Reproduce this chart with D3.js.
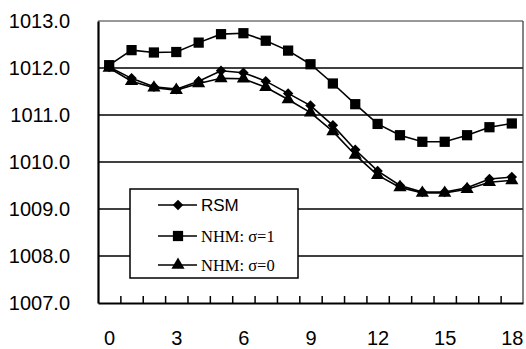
<!DOCTYPE html>
<html><head><meta charset="utf-8">
<script src="https://cdn.jsdelivr.net/npm/d3@7"></script>
<style>body{margin:0;background:#fff}svg{display:block}</style>
</head><body>
<script>
const hours = [0,1,2,3,4,5,6,7,8,9,10,11,12,13,14,15,16,17,18];
const rsm  = [1012.02,1011.78,1011.6,1011.55,1011.72,1011.94,1011.9,1011.72,1011.46,1011.2,1010.78,1010.26,1009.81,1009.5,1009.36,1009.36,1009.45,1009.64,1009.68];
const nhm1 = [1012.06,1012.38,1012.33,1012.34,1012.54,1012.72,1012.74,1012.58,1012.37,1012.08,1011.67,1011.23,1010.81,1010.57,1010.43,1010.43,1010.57,1010.74,1010.82];
const nhm0 = [1012.0,1011.72,1011.58,1011.53,1011.67,1011.78,1011.77,1011.59,1011.33,1011.05,1010.65,1010.15,1009.72,1009.46,1009.34,1009.34,1009.42,1009.57,1009.61];
const yTicks = [1007,1008,1009,1010,1011,1012,1013];
const xLabels = [0,3,6,9,12,15,18];
const seriesNames = ["RSM","NHM: σ=1","NHM: σ=0"];

const W=526,H=349;
const svg=d3.select("body").append("svg").attr("width",W).attr("height",H);
const L=98,R=523,T=21,B=303;
const x=d3.scaleLinear().domain([-0.5,18.5]).range([L,R]);
const y=d3.scaleLinear().domain([1007,1013]).range([B,T]);

// gridlines
svg.append("g").selectAll("line").data(yTicks.filter(v=>v>1007&&v<1013)).join("line")
  .attr("x1",L).attr("x2",R).attr("y1",d=>y(d)).attr("y2",d=>y(d))
  .attr("stroke","#000").attr("stroke-width",1.5);
// plot border top/right
svg.append("line").attr("x1",L).attr("x2",R).attr("y1",T).attr("y2",T).attr("stroke","#333").attr("stroke-width",1.2);
svg.append("line").attr("x1",R).attr("x2",R).attr("y1",T).attr("y2",B).attr("stroke","#333").attr("stroke-width",1.2);

// y axis
const ya=svg.append("g").attr("transform",`translate(${L},0)`)
  .call(d3.axisLeft(y).tickValues(yTicks).tickFormat(d3.format(".1f")).tickSize(0).tickPadding(28));
ya.select(".domain").attr("stroke","#000").attr("stroke-width",2.2);
ya.selectAll("text").attr("font-family","Liberation Sans, Arial, sans-serif").attr("font-size",20).attr("fill","#000");

// x axis minor ticks (between categories)
const xt=svg.append("g").attr("transform",`translate(0,${B})`)
  .call(d3.axisBottom(x).tickValues(hours.slice(0,18).map(h=>h+0.5)).tickFormat("").tickSizeInner(-7).tickSizeOuter(0));
xt.select(".domain").attr("stroke","#000").attr("stroke-width",2.2);
xt.selectAll(".tick line").attr("stroke","#000").attr("stroke-width",1.5);
// x labels
const xl=svg.append("g").attr("transform",`translate(0,${B})`)
  .call(d3.axisBottom(x).tickValues(xLabels).tickSize(0).tickPadding(28));
xl.select(".domain").remove();
xl.selectAll("text").attr("font-family","Liberation Sans, Arial, sans-serif").attr("font-size",20).attr("fill","#000");

const line=d3.line().x((d,i)=>x(hours[i])).y(d=>y(d));
const sym = {
  diamond: d3.symbol().type(d3.symbolDiamond2).size(70),
  square: d3.symbol().type(d3.symbolSquare).size(105),
  triangle: d3.symbol().type(d3.symbolTriangle).size(75)
};
function drawSeries(data, s){
  svg.append("path").datum(data).attr("d",line).attr("fill","none").attr("stroke","#000").attr("stroke-width",1.6);
  svg.append("g").selectAll("path").data(data).join("path")
    .attr("transform",(d,i)=>`translate(${x(hours[i])},${y(d)})`)
    .attr("d",sym[s]).attr("fill","#000");
}
drawSeries(nhm0,"triangle");
drawSeries(rsm,"diamond");
drawSeries(nhm1,"square");

// legend
const lg=svg.append("g");
lg.append("rect").attr("x",130).attr("y",189).attr("width",168).attr("height",89)
  .attr("fill","#fff").attr("stroke","#000").attr("stroke-width",1.5);
const rows=[{n:seriesNames[0],s:"diamond",f:"Liberation Sans, Arial, sans-serif",y:205,fs:17},
            {n:seriesNames[1],s:"square",f:"Liberation Serif, Times New Roman, serif",y:236,fs:16.5},
            {n:seriesNames[2],s:"triangle",f:"Liberation Serif, Times New Roman, serif",y:265,fs:16.5}];
rows.forEach(r=>{
  lg.append("line").attr("x1",158).attr("x2",197).attr("y1",r.y).attr("y2",r.y).attr("stroke","#000").attr("stroke-width",1.6);
  lg.append("path").attr("transform",`translate(178,${r.y})`).attr("d",sym[r.s]).attr("fill","#000");
  lg.append("text").attr("x",201).attr("y",r.y).attr("dy","0.35em").attr("font-family",r.f)
    .attr("font-size",r.fs).attr("fill","#000").text(r.n);
});
</script>
</body></html>
